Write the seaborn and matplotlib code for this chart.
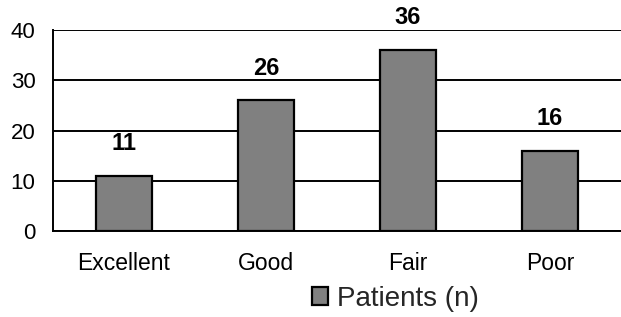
import seaborn as sns
import matplotlib.pyplot as plt
import pandas as pd

categories = ["Excellent", "Good", "Fair", "Poor"]
patients = [11, 26, 36, 16]
series_name = "Patients (n)"

df = pd.DataFrame({"rating": categories, "patients": patients})

sns.set_theme(style="white")
plt.rcParams['font.family'] = ['Liberation Sans', 'DejaVu Sans']

fig = plt.figure(figsize=(6.21, 3.17), dpi=100)
ax = fig.add_axes([0.0853, 0.271, 0.9147, 0.634])

sns.barplot(data=df, x="rating", y="patients", color="#808080", width=0.4,
            edgecolor="black", linewidth=1.6, saturation=1, label=series_name, ax=ax)

ax.set_ylim(0, 40)
ax.set_xlim(-0.5, 3.5)
ax.set_yticks([0, 10, 20, 30, 40])
ax.yaxis.grid(True, color="black", linewidth=1.4)
ax.set_axisbelow(True)
for s in ["top", "right"]:
    ax.spines[s].set_visible(False)
for s in ["left", "bottom"]:
    ax.spines[s].set_color("black")
    ax.spines[s].set_linewidth(1.4)

ax.set_xticks([-0.5, 0.5, 1.5, 2.5], minor=True)
ax.tick_params(axis="x", which="major", length=0, labelsize=16.5, pad=15, colors="black")
ax.tick_params(axis="x", which="minor", length=5, width=1.4, direction="out", color="black")
ax.tick_params(axis="y", length=4.5, width=1.4, direction="out", labelsize=16, colors="black", pad=8)
ax.set_xlabel("")
ax.set_ylabel("")

ax.bar_label(ax.containers[0], labels=[str(v) for v in patients], padding=15,
             fontsize=17, fontweight="bold", color="black")

ax.legend(loc="center", bbox_to_anchor=(395 / 621, 1 - 299 / 317), bbox_transform=fig.transFigure,
          frameon=False, fontsize=20, handlelength=0.6, handleheight=0.6, handletextpad=0.3,
          borderpad=0, borderaxespad=0)

fig.savefig("out.png", dpi=100)
